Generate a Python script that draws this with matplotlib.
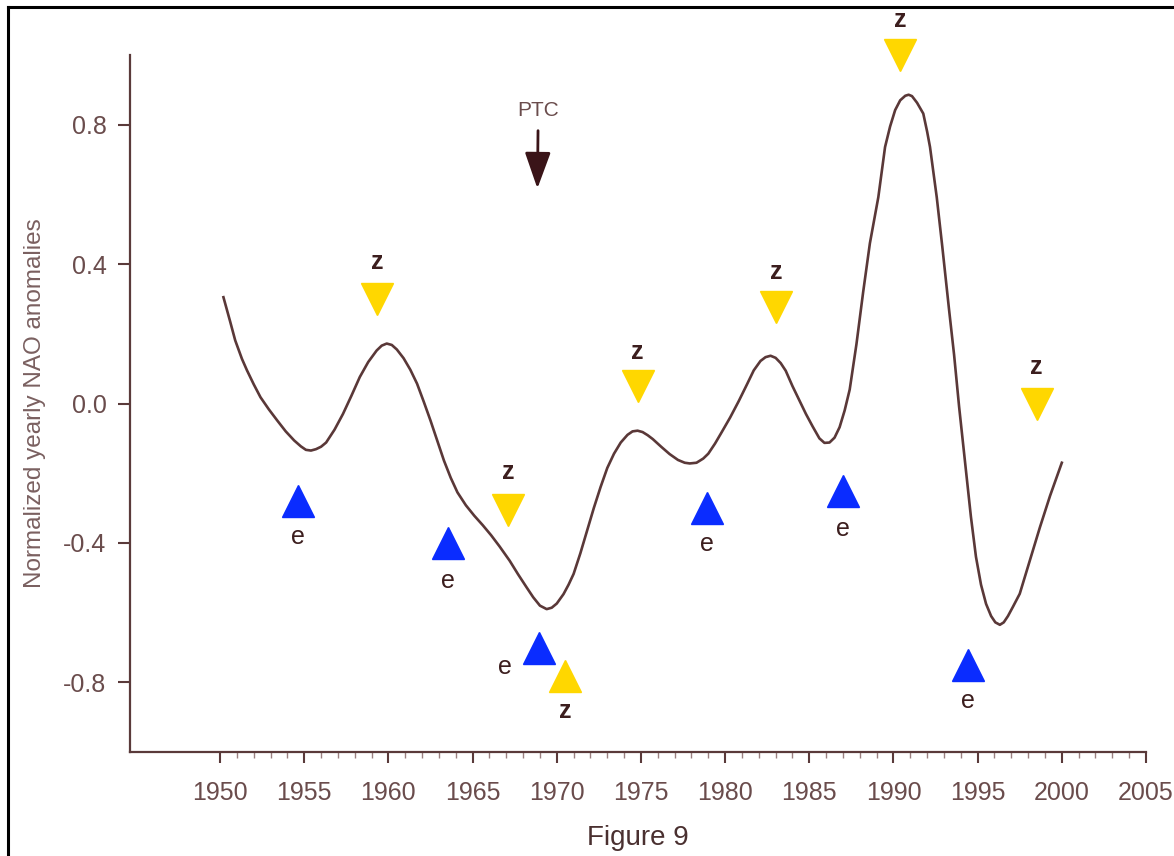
import matplotlib
matplotlib.use('Agg')
import matplotlib.pyplot as plt
from matplotlib.ticker import FixedLocator
from matplotlib.lines import Line2D

plt.rcParams['font.family'] = ['Liberation Sans', 'DejaVu Sans']
plt.rcParams['axes.unicode_minus'] = False

# NAO curve (year, normalized anomaly)
years = [1950.2, 1950.6, 1950.9, 1951.3, 1951.6, 1952.0, 1952.4, 1952.9, 1953.4,
         1953.9, 1954.4, 1954.8, 1955.1, 1955.4, 1955.7, 1956.0, 1956.3, 1956.8,
         1957.3, 1957.8, 1958.3, 1958.8, 1959.3, 1959.6, 1959.9, 1960.2, 1960.5,
         1960.9, 1961.3, 1961.7, 1962.1, 1962.5, 1962.9, 1963.3, 1963.7, 1964.1,
         1964.6, 1965.1, 1965.6, 1966.1, 1966.6, 1967.2, 1967.7, 1968.2, 1968.6,
         1969.0, 1969.4, 1969.7, 1970.0, 1970.4, 1970.7, 1971.0, 1971.4, 1971.8,
         1972.2, 1972.6, 1973.0, 1973.4, 1973.8, 1974.2, 1974.5, 1974.8, 1975.1,
         1975.4, 1975.7, 1976.2, 1976.7, 1977.2, 1977.6, 1977.9, 1978.3, 1978.7,
         1979.0, 1979.4, 1979.8, 1980.3, 1980.8, 1981.3, 1981.7, 1982.1, 1982.4,
         1982.7, 1983.0, 1983.3, 1983.6, 1984.0, 1984.4, 1984.8, 1985.2, 1985.6,
         1985.9, 1986.2, 1986.5, 1986.8, 1987.1, 1987.4, 1987.8, 1988.2, 1988.6,
         1989.1, 1989.5, 1989.8, 1990.1, 1990.4, 1990.7, 1990.9, 1991.1, 1991.4,
         1991.77, 1992.0, 1992.17, 1992.57, 1992.9, 1993.3, 1993.6, 1993.9, 1994.3,
         1994.6, 1994.9, 1995.2, 1995.5, 1995.8, 1996.05, 1996.32, 1996.55, 1996.8,
         1997.1, 1997.5, 1998.1, 1998.7, 1999.3, 2000.0]
nao = [0.305, 0.235, 0.181, 0.128, 0.095, 0.055, 0.018, -0.017, -0.049,
       -0.080, -0.106, -0.123, -0.133, -0.135, -0.131, -0.124, -0.112, -0.075,
       -0.030, 0.022, 0.076, 0.119, 0.152, 0.166, 0.172, 0.168, 0.155,
       0.130, 0.097, 0.057, 0.005, -0.049, -0.107, -0.164, -0.213, -0.255,
       -0.292, -0.322, -0.349, -0.378, -0.410, -0.451, -0.490, -0.527, -0.556,
       -0.580, -0.590, -0.586, -0.574, -0.547, -0.520, -0.489, -0.430, -0.365,
       -0.300, -0.240, -0.185, -0.144, -0.112, -0.090, -0.080, -0.078, -0.082,
       -0.091, -0.102, -0.124, -0.145, -0.162, -0.170, -0.172, -0.170, -0.158,
       -0.144, -0.115, -0.082, -0.040, 0.006, 0.055, 0.095, 0.122, 0.133,
       0.137, 0.131, 0.116, 0.094, 0.050, 0.010, -0.030, -0.066, -0.100,
       -0.113, -0.112, -0.098, -0.068, -0.020, 0.040, 0.170, 0.320, 0.460,
       0.592, 0.736, 0.795, 0.842, 0.870, 0.883, 0.886, 0.882, 0.863,
       0.832, 0.780, 0.736, 0.592, 0.450, 0.270, 0.140, -0.010, -0.190,
       -0.325, -0.440, -0.520, -0.575, -0.610, -0.628, -0.635, -0.628, -0.610,
       -0.583, -0.546, -0.451, -0.355, -0.265, -0.170]

# z events (yellow, pointing down) with label positions
z_years = [1959.35, 1967.1, 1974.8, 1983.05, 1990.4, 1998.5]
z_vals = [0.30, -0.305, 0.05, 0.277, 1.00, 0.0]
z_label_vals = [0.405, -0.197, 0.147, 0.377, 1.10, 0.104]
# the one yellow marker pointing up
zu_years = [1970.5]
zu_vals = [-0.783]
zu_label_vals = [-0.882]

# e events (blue, pointing up)
e_years = [1954.65, 1963.55, 1968.96, 1978.9, 1987.0, 1994.4]
e_vals = [-0.28, -0.40, -0.702, -0.30, -0.251, -0.751]
e_label_years = [1954.65, 1963.55, 1966.9, 1978.9, 1987.0, 1994.4]
e_label_vals = [-0.384, -0.508, -0.757, -0.403, -0.36, -0.853]

ptc_year = 1968.85

axis_col = '#5a3a3a'
tick_col = '#6a4c4c'
text_col = '#3c1e1e'
yellow = '#ffd700'
blue = '#0a2cff'

fig = plt.figure(figsize=(11.74, 8.56), dpi=100)
ax = fig.add_axes([130 / 1174, 104 / 856, 1016 / 1174, 697 / 856])

ax.plot(years, nao, color='#5a3838', lw=1.9, solid_joinstyle='round')

ax.plot(z_years, z_vals, 'v', color=yellow, ms=23, mec=yellow, clip_on=False)
ax.plot(zu_years, zu_vals, '^', color=yellow, ms=23, mec=yellow, clip_on=False)
ax.plot(e_years, e_vals, '^', color=blue, ms=23, mec=blue, clip_on=False)

for x, y in zip(z_years + zu_years, z_label_vals + zu_label_vals):
    ax.text(x, y, 'z', ha='center', va='center', fontsize=18,
            fontweight='bold', color=text_col)
for x, y in zip(e_label_years, e_label_vals):
    ax.text(x, y, 'e', ha='center', va='center', fontsize=18, color=text_col)

ax.annotate('PTC', xy=(ptc_year, 0.617), xytext=(ptc_year + 0.05, 0.842),
            ha='center', va='center', fontsize=15, color=tick_col,
            arrowprops=dict(arrowstyle='-|>,head_length=0.7,head_width=0.25',
                            color='#3a1418', lw=2, mutation_scale=32,
                            shrinkA=6, shrinkB=0))

ax.set_xlim(1944.65, 2005)
ax.set_ylim(-1.0, 1.0)
ax.set_xticks(range(1950, 2006, 5))
ax.xaxis.set_minor_locator(FixedLocator(range(1951, 2005)))
ax.set_yticks([-0.8, -0.4, 0.0, 0.4, 0.8])
ax.set_yticklabels(['-0.8', '-0.4', '0.0', '0.4', '0.8'])

for side in ['top', 'right']:
    ax.spines[side].set_visible(False)
for side in ['left', 'bottom']:
    ax.spines[side].set_color(axis_col)
    ax.spines[side].set_linewidth(1.6)

ax.tick_params(axis='x', which='major', length=8, width=1.5, color=axis_col,
               labelsize=18, labelcolor=tick_col, pad=13)
ax.tick_params(axis='x', which='minor', length=4, width=1, color='#9a8080')
ax.tick_params(axis='y', which='major', length=9, width=1.5, color=axis_col,
               labelsize=18, labelcolor=tick_col, pad=8)

ax.set_ylabel('Normalized yearly NAO anomalies', fontsize=17.5, color='#7a6060',
              labelpad=12)
ax.set_xlabel('Figure 9', fontsize=20, color='#4a3030', labelpad=14)

# outer frame (only the top and left edges show in the image)
fig.add_artist(Line2D([8 / 1174, 8 / 1174], [0, 1 - 7 / 856], color='black',
                      lw=2.2, transform=fig.transFigure))
fig.add_artist(Line2D([8 / 1174, 1], [1 - 7 / 856, 1 - 7 / 856], color='black',
                      lw=2.2, transform=fig.transFigure))

fig.savefig('out.png', dpi=100)
